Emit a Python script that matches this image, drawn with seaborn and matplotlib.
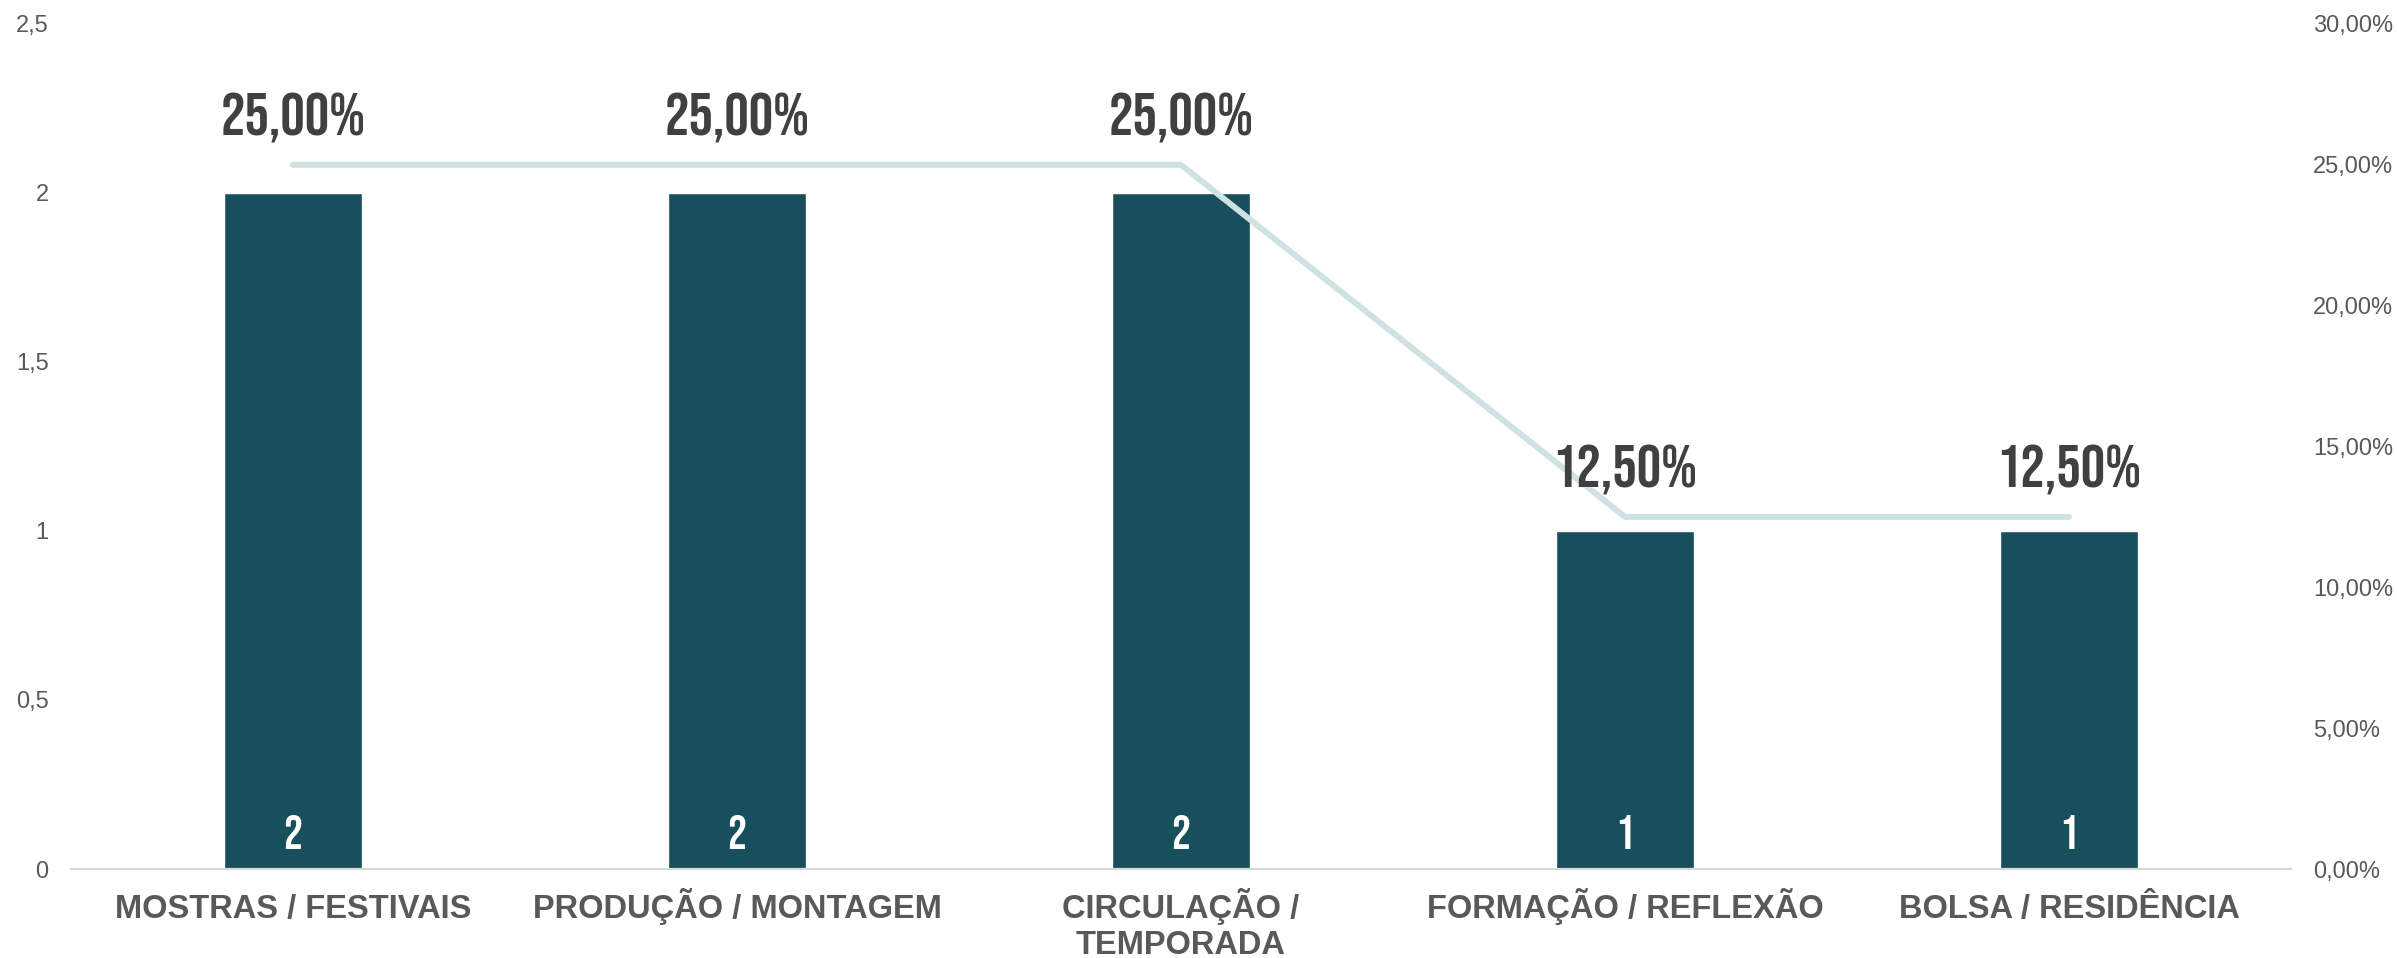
import matplotlib
matplotlib.use('Agg')
import matplotlib.pyplot as plt
from matplotlib.ticker import FuncFormatter, MultipleLocator
from matplotlib.transforms import ScaledTranslation
import seaborn as sns

categorias = ['MOSTRAS / FESTIVAIS', 'PRODUÇÃO / MONTAGEM', 'CIRCULAÇÃO / TEMPORADA',
              'FORMAÇÃO / REFLEXÃO', 'BOLSA / RESIDÊNCIA']
rotulos = ['MOSTRAS / FESTIVAIS', 'PRODUÇÃO / MONTAGEM', 'CIRCULAÇÃO /\nTEMPORADA',
           'FORMAÇÃO / REFLEXÃO', 'BOLSA / RESIDÊNCIA']
quantidades = [2, 2, 2, 1, 1]
percentuais = [0.25, 0.25, 0.25, 0.125, 0.125]

cor_barra = '#174F5C'
cor_linha = '#D0E1E4'
cor_eixo = '#595959'
cor_rotulo = '#404040'

sns.set_style('white')
plt.rcParams['font.family'] = ['Liberation Sans', 'DejaVu Sans']
fonte_cond = dict(family=['Bebas Neue', 'DejaVu Sans'])

fig, ax = plt.subplots(figsize=(23.97, 9.58), dpi=100)
fig.subplots_adjust(left=0.0296, right=0.9558, bottom=0.0929, top=0.975)

sns.barplot(x=categorias, y=quantidades, color=cor_barra, width=0.31,
            saturation=1, ax=ax)
ax.set_ylim(0, 2.5)
ax.yaxis.set_major_locator(MultipleLocator(0.5))
ax.yaxis.set_major_formatter(FuncFormatter(lambda v, p: f'{v:g}'.replace('.', ',')))
ax.set_xticks(range(len(rotulos)))
ax.tick_params(axis='x', length=0, pad=35)
ax.tick_params(axis='y', length=0, pad=16, labelsize=17, labelcolor=cor_eixo)
ax.set_xticklabels(rotulos, fontsize=23.5, fontweight='bold', color=cor_eixo,
                   linespacing=1.18, va='baseline')
for s in ['top', 'right', 'left']:
    ax.spines[s].set_visible(False)
ax.spines['bottom'].set_color('#D9D9D9')
ax.spines['bottom'].set_linewidth(1.6)

# valores dentro das barras
for p in ax.patches:
    ax.annotate(f'{int(p.get_height())}', (p.get_x() + p.get_width() / 2, 0),
                xytext=(0, 14.5), textcoords='offset points', ha='center',
                va='baseline', color='white', fontsize=34, **fonte_cond)

ax2 = ax.twinx()
sns.lineplot(x=categorias, y=percentuais, sort=False, color=cor_linha,
             linewidth=4.3, solid_capstyle='round', ax=ax2)
ax2.set_ylim(0, 0.30)
ax.set_xlim(-0.5, len(categorias) - 0.5)
ax2.yaxis.set_major_locator(MultipleLocator(0.05))
ax2.yaxis.set_major_formatter(FuncFormatter(lambda v, p: f'{v*100:.2f}%'.replace('.', ',')))
ax2.tick_params(axis='y', length=0, pad=16, labelsize=17, labelcolor=cor_eixo)
for s in ax2.spines.values():
    s.set_visible(False)
ax2.set_ylabel('')

for x, y in ax2.lines[0].get_xydata():
    ax2.annotate(f'{y*100:.2f}%'.replace('.', ','), (x, y), xytext=(0, 21),
                 textcoords='offset points', ha='center', va='baseline',
                 color=cor_rotulo, fontsize=44, **fonte_cond)

# rótulo em duas linhas: baseline da primeira linha alinhada às demais
for lbl in ax.get_xticklabels():
    n = lbl.get_text().count('\n')
    if n:
        lbl.set_transform(lbl.get_transform() +
                          ScaledTranslation(0, -0.36 * n, fig.dpi_scale_trans))

plt.savefig('out.png', dpi=100)
